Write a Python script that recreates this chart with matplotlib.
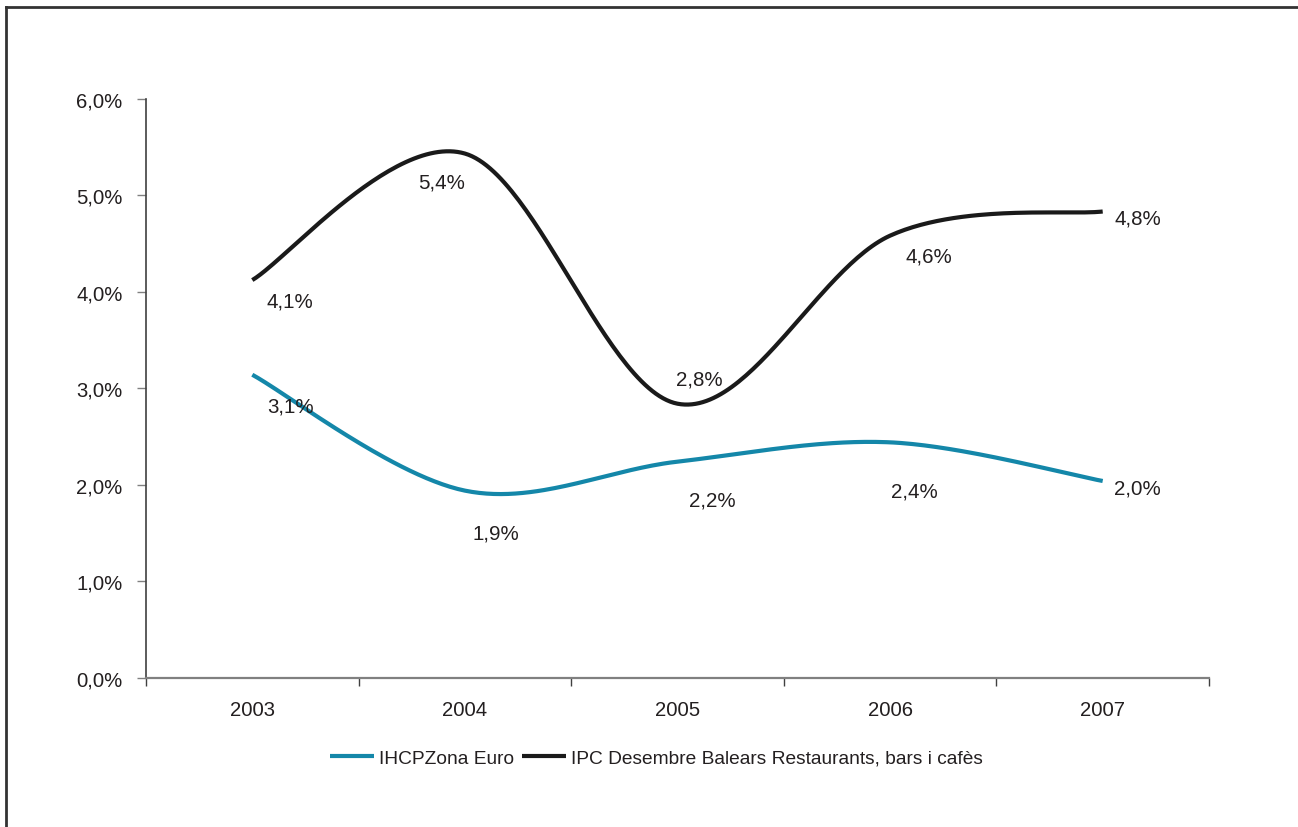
import numpy as np
import matplotlib
matplotlib.use("Agg")
import matplotlib.pyplot as plt
from matplotlib.lines import Line2D
from matplotlib.ticker import FixedLocator, NullFormatter

plt.rcParams['font.family'] = ['Liberation Sans', 'DejaVu Sans']

years = ["2003", "2004", "2005", "2006", "2007"]
ihcp_euro = [3.14, 1.94, 2.24, 2.44, 2.04]
ipc_balears = [4.12, 5.43, 2.84, 4.58, 4.83]
series_names = ["IHCPZona Euro", "IPC Desembre Balears Restaurants, bars i cafès"]
y_ticks = [0, 1, 2, 3, 4, 5, 6]

BLUE = "#1487a9"
BLACK = "#1a1a1a"
TEXT = "#231f20"

# label offsets in pixels (dx right, dy down)
blue_offsets = [(38, 31), (31, 42), (35, 38), (24, 49), (35, 7)]
black_offsets = [(38, 21), (-23, 28), (22, -25), (39, 20), (35, 6)]


def smooth(xs, ys, n=60):
    P = np.column_stack([xs, ys]).astype(float)
    m = len(P)
    out = []
    for i in range(m - 1):
        p0 = P[i - 1] if i > 0 else P[i]
        p1 = P[i]
        p2 = P[i + 1]
        p3 = P[i + 2] if i + 2 < m else P[i + 1]
        c1 = p1 + (p2 - p0) / 6.0
        c2 = p2 - (p3 - p1) / 6.0
        t = np.linspace(0, 1, n)[:, None]
        seg = ((1 - t) ** 3) * p1 + 3 * ((1 - t) ** 2) * t * c1 + 3 * (1 - t) * t ** 2 * c2 + t ** 3 * p2
        out.append(seg if i == 0 else seg[1:])
    s = np.vstack(out)
    return s[:, 0], s[:, 1]


fig = plt.figure(figsize=(12.98, 8.28), dpi=100)
ax = fig.add_axes([146 / 1298, 1 - 679 / 828, (1209 - 146) / 1298, (679 - 99.5) / 828])

x = np.arange(len(years))
for vals, color, name, offs in [(ihcp_euro, BLUE, series_names[0], blue_offsets),
                                (ipc_balears, BLACK, series_names[1], black_offsets)]:
    sx, sy = smooth(x, vals)
    ax.plot(sx, sy, color=color, lw=3.0, label=name, solid_capstyle='butt', zorder=3)
    for xi, v, (dx, dy) in zip(x, vals, offs):
        ax.annotate(f"{v:.1f}%".replace('.', ','), (xi, v), xytext=(dx, -dy),
                    textcoords='offset pixels', ha='center', va='center',
                    fontsize=14.8, color=TEXT, zorder=4)

ax.set_xlim(-0.5, len(years) - 0.5)
ax.set_ylim(0, 6)
ax.set_yticks(y_ticks)
ax.set_yticklabels([f"{t:.1f}%".replace('.', ',') for t in y_ticks])
ax.set_xticks(x)
ax.set_xticklabels(years)
ax.xaxis.set_minor_locator(FixedLocator(np.arange(-0.5, len(years), 1.0)))
ax.xaxis.set_minor_formatter(NullFormatter())

ax.tick_params(axis='x', which='major', length=0, pad=16, labelsize=14.6, labelcolor=TEXT)
ax.tick_params(axis='x', which='minor', length=5.5, width=1.0, color="#404040", direction='out')
ax.tick_params(axis='y', which='major', length=6.5, width=1.0, color="#808080", pad=10.5,
               labelsize=14.6, labelcolor=TEXT, direction='out')

for side in ['top', 'right']:
    ax.spines[side].set_visible(False)
ax.spines['left'].set_color("#404040")
ax.spines['left'].set_linewidth(1.2)
ax.spines['bottom'].set_color("#808080")
ax.spines['bottom'].set_linewidth(1.6)

leg = fig.legend(loc='center', bbox_to_anchor=(656.5 / 1298, 1 - 759 / 828), ncol=2,
                 frameon=False, fontsize=13.8, handlelength=2.3, handletextpad=0.25,
                 columnspacing=0.4, borderpad=0)
for t in leg.get_texts():
    t.set_color(TEXT)

# outer frame (left and top edges)
fig.add_artist(Line2D([6 / 1298, 6 / 1298], [0, 1 - 8 / 828], transform=fig.transFigure,
                      color="#333333", lw=2.0))
fig.add_artist(Line2D([6 / 1298, 1], [1 - 8 / 828, 1 - 8 / 828], transform=fig.transFigure,
                      color="#333333", lw=2.0))

fig.savefig("out.png", dpi=100)
